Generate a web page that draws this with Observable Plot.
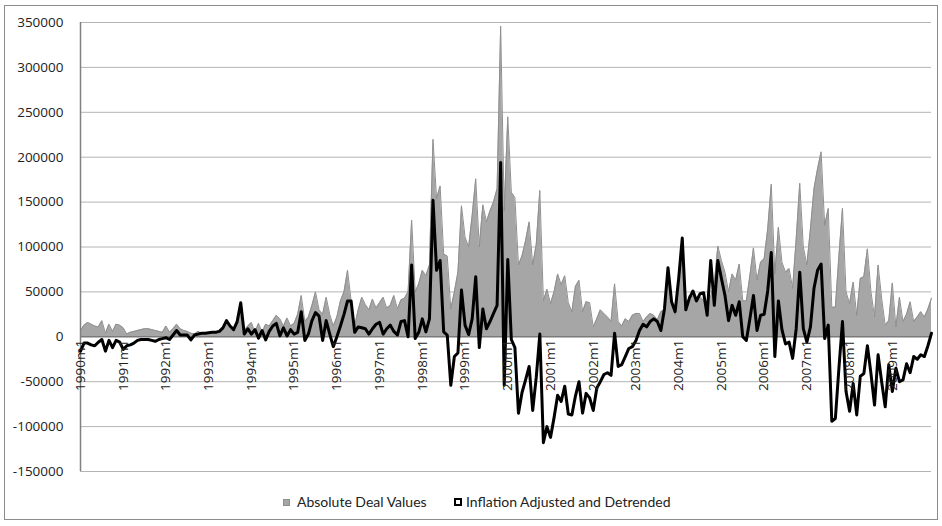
<!DOCTYPE html>
<html><head><meta charset="utf-8">
<script src="https://cdn.jsdelivr.net/npm/d3@7"></script>
<script src="https://cdn.jsdelivr.net/npm/@observablehq/plot@0.6"></script>
<style>
body{margin:0;background:#fff;font-family:Lato,"Open Sans",sans-serif;}
#frame{position:absolute;left:4px;top:5px;width:934px;height:515px;border:1px solid #8c8c8c;box-sizing:border-box;}
#chart{position:absolute;left:0;top:0;}
.lg{position:absolute;top:493px;font-size:14px;line-height:17px;color:#222;white-space:nowrap;}
.sw{position:absolute;box-sizing:border-box;}
</style></head><body>
<div id="frame"></div>
<div id="chart"></div>
<div id="legend"></div>
<script>
// Monthly values, 1990m1 .. 2009m12 (one row per year)
const absoluteDealValues = [
  7000, 13000, 16000, 14000, 12000, 11000, 18000, 4000, 14000, 6000, 14000, 13000,
  10000, 3000, 5000, 6000, 7000, 8000, 9000, 9000, 8000, 7000, 6000, 5000,
  12000, 5000, 9000, 14000, 9000, 7000, 6000, 4000, 3000, 6000, 4000, 3000,
  4000, 4500, 4500, 5500, 9000, 17000, 11000, 7500, 16000, 36000, 7000, 12000,
  16000, 5000, 15000, 5000, 14000, 12000, 18000, 24000, 20000, 12000, 21000, 12000,
  15000, 25000, 46000, 17000, 22000, 35000, 50000, 30000, 25000, 44000, 25000, 12000,
  22000, 40000, 50000, 74000, 40000, 12000, 30000, 44000, 36000, 30000, 42000, 32000,
  38000, 44000, 32000, 35000, 46000, 31000, 41000, 43000, 50000, 130000, 50000, 59000,
  74000, 68000, 80000, 220000, 154000, 168000, 92000, 90000, 31000, 50000, 72000, 146000,
  111000, 100000, 135000, 176000, 100000, 147000, 128000, 140000, 150000, 165000, 346000, 140000,
  245000, 161000, 155000, 80000, 90000, 107000, 128000, 80000, 103000, 163000, 40000, 53000,
  37000, 50000, 70000, 58000, 68000, 38000, 28000, 56000, 63000, 28000, 39000, 38000,
  11000, 20000, 30000, 26000, 22000, 17000, 59000, 17000, 12000, 20000, 17000, 24000,
  26000, 26000, 17000, 22000, 26000, 24000, 19000, 28000, 30000, 75000, 35000, 24000,
  60000, 95000, 30000, 46000, 45000, 42000, 45000, 40000, 38000, 45000, 60000, 101000,
  85000, 72000, 50000, 70000, 63000, 81000, 40000, 40000, 68000, 99000, 63000, 83000,
  87000, 120000, 170000, 70000, 122000, 83000, 72000, 76000, 54000, 109000, 171000, 100000,
  80000, 120000, 165000, 187000, 206000, 124000, 143000, 33000, 33000, 90000, 143000, 50000,
  37000, 61000, 24000, 65000, 67000, 98000, 50000, 22000, 80000, 43000, 13000, 18000,
  60000, 11000, 44000, 17000, 25000, 39000, 17000, 22000, 28000, 22000, 31000, 43000
];
const inflationAdjustedDetrended = [
  -16000, -7000, -7000, -9000, -10000, -6000, -3000, -16000, -4000, -12000, -4000, -6000,
  -14000, -10000, -9000, -7000, -4000, -3000, -3000, -3000, -4000, -5000, -3000, -2000,
  -1000, -3000, 2000, 7000, 2000, 2000, 2000, -3500, 2000, 3000, 4000, 4000,
  4500, 5000, 5000, 6000, 10000, 18000, 12000, 8000, 17000, 38000, 3000, 9000,
  3000, 8000, -1500, 7000, -3500, 6000, 12000, 15000, 1000, 10000, 1000, 8000,
  3000, 5000, 28000, -4000, 3000, 18000, 27000, 23000, -4000, 18000, 3000, -11000,
  0, 12000, 25000, 40000, 40000, 5000, 11000, 10000, 9000, 3000, 9000, 14000,
  16000, 3000, 9000, 13000, 6000, 2000, 17000, 18000, 0, 80000, -2000, 5000,
  20000, 5500, 20000, 152000, 74000, 85000, 5500, 2000, -54000, -22000, -18000, 52000,
  13000, 2500, 20000, 67000, -12000, 31000, 9000, 17000, 26000, 35000, 194000, -54000,
  86000, -3000, -12000, -85000, -62000, -48000, -33000, -82000, -45000, 3000, -118000, -100000,
  -112000, -90000, -65000, -72000, -55000, -86000, -87000, -66000, -50000, -85000, -63000, -68000,
  -82000, -57000, -50000, -42000, -40000, -43000, 4000, -33000, -31000, -22000, -13000, -11000,
  -4000, 7000, 14000, 11000, 17000, 20000, 17000, 7000, 31000, 77000, 39000, 28000,
  65000, 110000, 30000, 43000, 51000, 40000, 48000, 49000, 24000, 85000, 35000, 85000,
  65000, 46000, 18000, 35000, 24000, 39000, 0, -4000, 20000, 46000, 7000, 24000,
  25000, 51000, 94000, -22000, 40000, 8000, -8000, -6000, -24000, 9000, 72000, 9000,
  -6000, 11000, 54000, 74000, 81000, -2000, 13000, -94000, -91000, -35000, 17000, -61000,
  -83000, -52000, -87000, -44000, -41000, -10000, -41000, -76000, -20000, -50000, -78000, -31000,
  -61000, -35000, -50000, -48000, -30000, -40000, -22000, -25000, -20000, -22000, -10000, 4000
];
const xTickLabels = ["1990m1","1991m1","1992m1","1993m1","1994m1","1995m1","1996m1","1997m1","1998m1","1999m1",
  "2000m1","2001m1","2002m1","2003m1","2004m1","2005m1","2006m1","2007m1","2008m1","2009m1"];
const yTickValues = [-150000,-100000,-50000,0,50000,100000,150000,200000,250000,300000,350000];
const seriesNames = ["Absolute Deal Values","Inflation Adjusted and Detrended"];

const data = absoluteDealValues.map((v, i) => ({i, abs: v, adj: inflationAdjustedDetrended[i]}));
const xTicks = xTickLabels.map((label, k) => ({x: k * 12, label}));
const tickFont = "'Open Sans', Lato, sans-serif";
const tickSize = 13.5;

const chart = Plot.plot({
  width: 942, height: 480,
  marginLeft: 80, marginRight: 11, marginTop: 22, marginBottom: 9,
  x: {domain: [0, data.length - 1], axis: null},
  y: {domain: [-150000, 350000], axis: null},
  style: {fontFamily: tickFont, fontSize: tickSize + "px", color: "#222", background: "transparent", overflow: "visible"},
  marks: [
    Plot.ruleY(yTickValues.filter(d => d !== 0), {stroke: "#b4b4b4", strokeWidth: 1}),
    Plot.areaY(data, {x: "i", y: "abs", fill: "#a6a6a6"}),
    Plot.lineY(data, {x: "i", y: "abs", stroke: "#8f8f8f", strokeWidth: 1}),
    Plot.ruleY([0], {stroke: "#7a7a7a", strokeWidth: 1.6}),
    Plot.ruleX([0], {y1: -150000, y2: 350000, stroke: "#808080", strokeWidth: 1.5}),
    Plot.lineY(data, {x: "i", y: "adj", stroke: "#000", strokeWidth: 3, strokeLinejoin: "round"}),
    Plot.text(yTickValues, {x: 0, y: d => d, text: d => String(d), textAnchor: "end", dx: -17, fill: "#222"}),
    Plot.text(xTicks, {x: "x", y: 0, text: "label", rotate: -90, textAnchor: "end", dy: 3, fill: "#222"})
  ]
});
document.getElementById("chart").appendChild(chart);

const legend = document.getElementById("legend");
legend.innerHTML =
  `<span class="sw" style="left:283px;top:499px;width:7px;height:7px;background:#a6a6a6;border:1px solid #8f8f8f"></span>` +
  `<span class="lg" style="left:297px">${seriesNames[0]}</span>` +
  `<span class="sw" style="left:454px;top:498px;width:8px;height:8px;background:#fff;border:2px solid #000"></span>` +
  `<span class="lg" style="left:466px">${seriesNames[1]}</span>`;
</script>
</body></html>
